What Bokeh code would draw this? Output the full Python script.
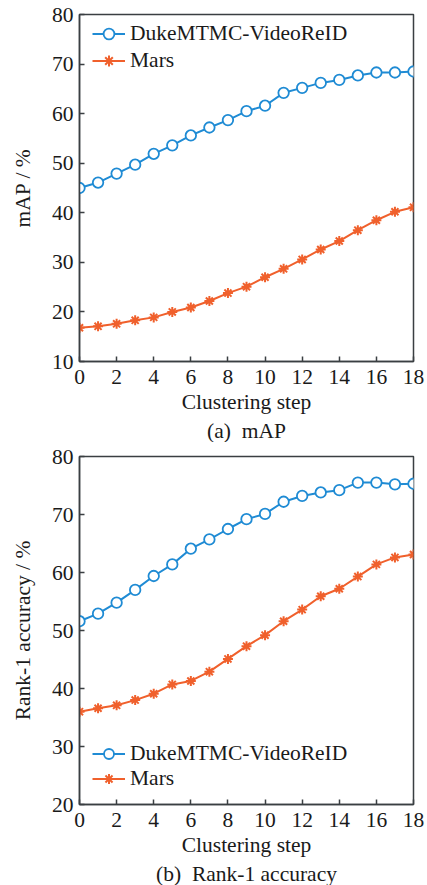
from bokeh.plotting import figure
from bokeh.models import Title, Legend, LegendItem, FixedTicker, Range1d
from bokeh.layouts import column
from bokeh.embed import file_html
from bokeh.resources import INLINE

steps = list(range(19))
x_ticks = [0, 2, 4, 6, 8, 10, 12, 14, 16, 18]

duke_map = [45.0, 46.1, 47.9, 49.7, 51.9, 53.6, 55.6, 57.2, 58.7, 60.5,
            61.6, 64.2, 65.2, 66.2, 66.8, 67.7, 68.3, 68.3, 68.5]
mars_map = [16.8, 17.1, 17.6, 18.3, 18.9, 20.0, 20.9, 22.2, 23.8, 25.1,
            27.0, 28.7, 30.6, 32.6, 34.3, 36.5, 38.5, 40.2, 41.1]

duke_rank1 = [51.6, 52.9, 54.8, 57.0, 59.4, 61.4, 64.1, 65.7, 67.5, 69.2,
              70.1, 72.2, 73.2, 73.8, 74.2, 75.5, 75.5, 75.2, 75.3]
mars_rank1 = [36.0, 36.6, 37.1, 38.0, 39.1, 40.7, 41.3, 42.9, 45.1, 47.3,
              49.2, 51.6, 53.6, 55.9, 57.2, 59.3, 61.4, 62.6, 63.1]

series_names = ["DukeMTMC-VideoReID", "Mars"]
BLUE = "#1f8bd4"
ORANGE = "#f0602c"
FRAME = "#3a3f42"
FONT = "Liberation Serif"
FS = "21.5px"


def make_fig(duke, mars, yr, yticks, ylabel, caption, leg_y, row_h,
             b_top, b_bottom, fh):
    p = figure(width=79 + 334 + 14, height=b_top + fh + b_bottom,
               x_range=Range1d(0, 18), y_range=Range1d(*yr),
               output_backend="svg", toolbar_location=None,
               min_border_left=79, min_border_right=14,
               min_border_top=b_top, min_border_bottom=b_bottom)
    p.grid.visible = False
    p.outline_line_color = FRAME
    p.outline_line_width = 1.5
    p.background_fill_color = "white"
    p.border_fill_color = "white"

    for ax in (p.xaxis[0], p.yaxis[0]):
        ax.axis_line_color = FRAME
        ax.axis_line_width = 1.5
        ax.major_tick_line_color = FRAME
        ax.major_tick_line_width = 1.5
        ax.major_tick_in = 5
        ax.major_tick_out = 0
        ax.minor_tick_line_color = None
        ax.major_label_text_font = FONT
        ax.major_label_text_font_size = FS
        ax.major_label_text_color = "#1a1a1a"
        ax.axis_label_text_font = FONT
        ax.axis_label_text_font_size = FS
        ax.axis_label_text_font_style = "normal"
        ax.axis_label_text_color = "#1a1a1a"

    p.xaxis.ticker = FixedTicker(ticks=x_ticks)
    p.yaxis.ticker = FixedTicker(ticks=yticks)
    p.xaxis.axis_label = "Clustering step"
    p.yaxis.axis_label = ylabel
    p.xaxis.major_label_standoff = 8
    p.xaxis.axis_label_standoff = 3
    p.yaxis.major_label_standoff = 6
    p.yaxis.axis_label_standoff = 14

    l1 = p.line(steps, duke, line_color=BLUE, line_width=2)
    s1 = p.scatter(steps, duke, marker="circle", size=10.5, fill_color="white",
                   line_color=BLUE, line_width=1.8)
    l2 = p.line(steps, mars, line_color=ORANGE, line_width=2)
    s2 = p.scatter(steps, mars, marker="asterisk", size=10,
                   line_color=ORANGE, line_width=2)

    legend = Legend(items=[LegendItem(label=series_names[0], renderers=[l1, s1]),
                           LegendItem(label=series_names[1], renderers=[l2, s2])],
                    location=(13, leg_y))
    legend.border_line_color = None
    legend.background_fill_alpha = 0
    legend.padding = 0
    legend.margin = 0
    legend.spacing = 0
    legend.glyph_width = 33
    legend.glyph_height = row_h
    legend.label_height = row_h
    legend.label_standoff = 5
    legend.label_text_font = FONT
    legend.label_text_font_size = FS
    legend.label_text_color = "#1a1a1a"
    p.add_layout(legend)

    t = Title(text=caption, align="center", text_font=FONT, text_font_size=FS,
              text_font_style="normal", text_color="#1a1a1a", standoff=0)
    p.add_layout(t, "below")
    return p


p1 = make_fig(duke_map, mars_map, (10, 80), [10, 20, 30, 40, 50, 60, 70, 80],
              "mAP / %", "(a)\u00a0 mAP", 287, 27, 14, 81, 347)
p2 = make_fig(duke_rank1, mars_rank1, (20, 80), [20, 30, 40, 50, 60, 70, 80],
              "Rank-1 accuracy / %", "(b)\u00a0 Rank-1 accuracy", 13, 25, 14, 80, 349)

layout = column(p1, p2, spacing=0)
open("out.html", "w").write(file_html(layout, INLINE))
